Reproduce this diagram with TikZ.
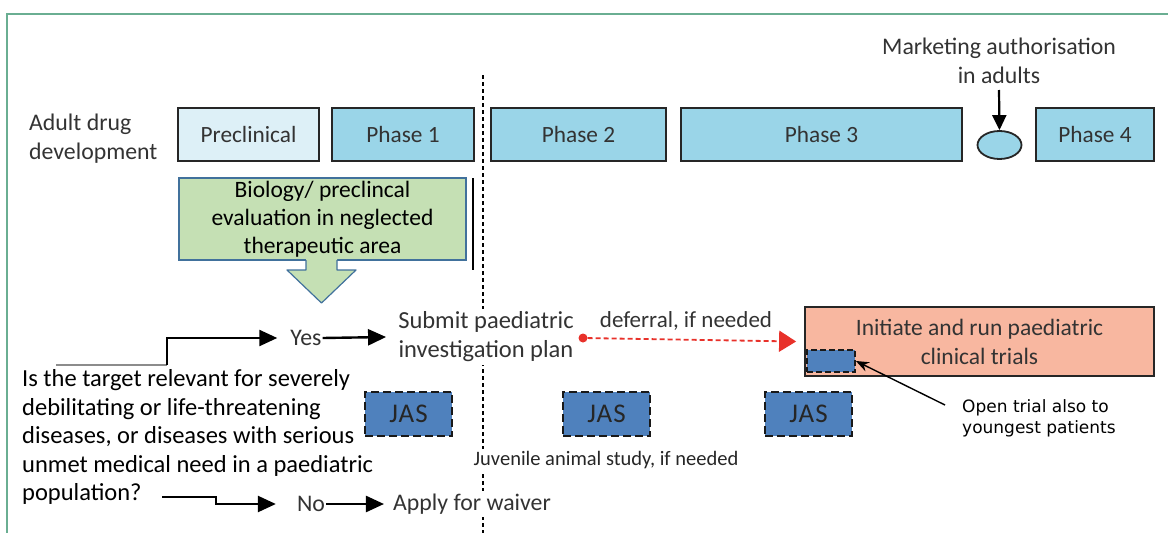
\documentclass[tikz,border=0pt]{standalone}
\usepackage{fontspec}
\setmainfont{Carlito}
\newfontfamily\notefont{DejaVu Sans}
\newfontfamily\jasfont[LetterSpace=4]{Carlito}
\usetikzlibrary{arrows.meta,shapes.geometric}
\definecolor{frameGreen}{HTML}{6AAE92}
\definecolor{paleBlue}{HTML}{DDF0F7}
\definecolor{phaseBlue}{HTML}{9AD5E8}
\definecolor{bioGreen}{HTML}{C5E0B4}
\definecolor{bioEdge}{HTML}{41719C}
\definecolor{trialSalmon}{HTML}{F8B7A0}
\definecolor{jasBlue}{HTML}{4F81BD}
\definecolor{deferRed}{HTML}{E8312A}
\definecolor{ink}{HTML}{333333}
\begin{document}
\begin{tikzpicture}[x=1pt,y=-1pt,
  phasebox/.style={draw=black!85,line width=2pt,fill=phaseBlue,minimum height=53pt,
    inner sep=0pt,text=ink,font=\fontsize{23.3}{29}\selectfont},
  lancet/.style={text=ink,font=\fontsize{23.8}{29}\selectfont,align=center,inner sep=1pt},
  jasbox/.style={draw=black!90,fill=jasBlue,line width=2.4pt,dash pattern=on 8pt off 4pt,
    minimum width=87pt,minimum height=44pt,inner sep=0pt,text=black!85,
    font=\jasfont\fontsize{27}{28}\selectfont},
  flowarrow/.style={draw=black,line width=2.4pt,-{Triangle[length=18pt,width=16pt]}},
]
\useasboundingbox (0,0) rectangle (1168,533);

% outer frame, only its top and left edges fall inside the page
\draw[frameGreen,line width=2pt] (7,545) -- (7,14) -- (1180,14);

% dotted separator between phase 1 and phase 2
\draw[black,line width=1.6pt,dash pattern=on 4pt off 3pt] (483,75) -- (483,533);
% solid marker beside the biology box
\draw[black,line width=1.4pt] (473,178) -- (473,270);

% adult drug development row
\node[lancet,align=left,anchor=west] (adult) at (28,139) {Adult drug\\development};
\node[phasebox,fill=paleBlue,minimum width=141pt] (pre) at (248.5,134.5) {Preclinical};
\node[phasebox,minimum width=142pt] (ph1) at (403,134.5) {Phase 1};
\node[phasebox,minimum width=175pt] (ph2) at (578.5,134.5) {Phase 2};
\node[phasebox,minimum width=281pt] (ph3) at (821.5,134.5) {Phase 3};
\node[phasebox,minimum width=118pt] (ph4) at (1095,134.5) {Phase 4};
\node[ellipse,draw=black!85,line width=1.8pt,fill=phaseBlue,minimum width=44pt,
  minimum height=28pt,inner sep=0pt] (ma) at (999.5,145) {};
\node[lancet] (mkt) at (999,61) {Marketing authorisation\\in adults};
\draw[black,line width=2.2pt,-{Triangle[length=15pt,width=14pt]}] (999,90) -- (ma.north);

% biology box with its downward block arrow
\node[draw=bioEdge,line width=1.2pt,fill=bioGreen,minimum width=287pt,minimum height=82pt,
  inner sep=0pt,align=center,font=\fontsize{23.5}{28}\selectfont] (bio) at (322.5,219)
  {Biology/ preclincal\\evaluation in neglected\\therapeutic area};
\fill[bioGreen] (306,258) -- (306,270) -- (287,270) -- (321.5,303) -- (356,270)
  -- (337,270) -- (337,258) -- cycle;
\draw[bioEdge,line width=1.2pt,line join=round] (306,260) -- (306,270) -- (287,270)
  -- (321.5,303) -- (356,270) -- (337,270) -- (337,260);

% paediatric route
\node[lancet,fill=white] (yes) at (306,338) {Yes};
\node[lancet,fill=white,inner sep=3pt,font=\fontsize{24.5}{29}\selectfont] (pip) at (486,337) {Submit paediatric\\investigation plan};
\node[lancet,font=\fontsize{23}{29}\selectfont] (defer) at (686,321) {deferral, if needed};
\node[draw=black!85,line width=1.8pt,fill=trialSalmon,minimum width=349pt,minimum height=69pt,
  inner sep=0pt,text=ink,align=center,font=\fontsize{23.5}{29}\selectfont] (trial)
  at (979.5,341.5) {Initiate and run paediatric\\clinical trials};
\node[draw=black!90,fill=jasBlue,line width=1.8pt,dash pattern=on 6pt off 3pt,
  minimum width=48pt,minimum height=22pt,inner sep=0pt] (young) at (831,361) {};
\node[font=\notefont\fontsize{17}{21}\selectfont,align=left,anchor=west,inner sep=0pt]
  (opentrial) at (962,418) {Open trial also to\\youngest patients};
\coordinate (openTail) at (945,405);
\draw[black,line width=1.4pt,-{Stealth[length=13pt,width=10pt]}] (openTail) -- (young.east);

\node[circle,fill=deferRed,inner sep=0pt,minimum size=9pt] (dot) at (583,338) {};
\draw[deferRed,line width=1.8pt,dash pattern=on 5pt off 3pt,
  -{Triangle[length=17pt,width=21pt]}] (dot) -- ([xshift=-8pt]trial.west);

\draw[flowarrow] (yes.east) -- ([xshift=-9pt]pip.west);

% juvenile animal studies
\node[jasbox] (jas1) at (408.5,414) {JAS};
\node[jasbox] (jas2) at (606.5,414) {JAS};
\node[jasbox] (jas3) at (808.5,414) {JAS};
\node[text=black!85,fill=white,font=\fontsize{20.5}{22}\selectfont,inner sep=2pt] (juv)
  at (606,460) {Juvenile animal study, if needed};

% eligibility question and its two answers
\node[anchor=west,align=left,inner sep=0pt,font=\fontsize{24.5}{28.5}\selectfont] (question)
  at (22,437) {Is the target relevant for severely\\debilitating or life-threatening\\diseases, or diseases with serious\\unmet medical need in a paediatric\\population?};
\node[lancet,fill=white] (no) at (311,504) {No};
\node[lancet,fill=white,inner sep=3pt] (waiver) at (472,504) {Apply for waiver};
\draw[flowarrow] (no.east) -- ([xshift=-6pt]waiver.west);

\coordinate (yesTail) at (56,365);
\coordinate (yesBend) at (167,365);
\draw[black!45,line width=2pt] (yesTail) -- (yesBend);
\draw[flowarrow] (yesBend) |- ([xshift=-12pt]yes.west);
\coordinate (noTail) at (162,497);
\draw[flowarrow] (noTail) -- (216,497) |- ([xshift=-20pt]no.west);
\end{tikzpicture}
\end{document}
